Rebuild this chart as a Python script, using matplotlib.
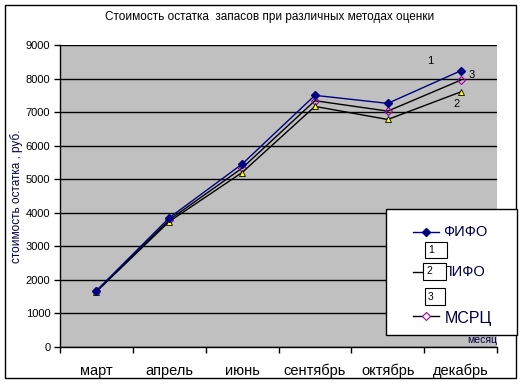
import matplotlib
matplotlib.use('Agg')
import matplotlib.pyplot as plt
from matplotlib.lines import Line2D
from matplotlib.patches import Rectangle

plt.rcParams['font.family'] = ['Liberation Sans', 'DejaVu Sans']

months = ['март', 'апрель', 'июнь', 'сентябрь', 'октябрь', 'декабрь']
fifo = [1680, 3850, 5450, 7500, 7260, 8230]
lifo = [1650, 3740, 5200, 7170, 6780, 7600]
mcrc = [1665, 3790, 5330, 7340, 7030, 7950]
yticks = list(range(0, 9001, 1000))

W, H = 523, 387
fig = plt.figure(figsize=(W / 100, H / 100), dpi=100)

def fx(px):
    return px / W

def fy(py):
    return 1 - py / H

# outer chart border
fig.add_artist(Rectangle((fx(5), fy(378)), fx(516) - fx(5), fy(5) - fy(378),
                         transform=fig.transFigure, fill=False, ec='black', lw=1))

ax = fig.add_axes([fx(60), fy(347), fx(497) - fx(60), fy(45) - fy(347)])
ax.set_facecolor('#c0c0c0')

x = list(range(len(months)))
ax.plot(x, fifo, color='#000080', lw=1, marker='D', ms=4, mfc='#000080', mec='#000080', zorder=4)
ax.plot(x, mcrc, color='black', lw=1, marker='D', ms=4, mfc='none', mec='#a000a0', mew=0.8, zorder=3)
ax.plot(x, lifo, color='black', lw=1, marker='^', ms=5, mfc='#ffff00', mec='black', mew=0.6, zorder=3)

ax.set_xlim(-0.5, len(months) - 0.5)
ax.set_ylim(0, 9000)
ax.set_yticks(yticks)
ax.set_yticklabels([str(v) for v in yticks], fontsize=8)
ax.yaxis.grid(True, color='black', lw=1)
ax.set_axisbelow(True)

ax.set_xticks(x)
ax.set_xticklabels(months, fontsize=10.5)
ax.set_xticks([i + 0.5 for i in x[:-1]] + [-0.5, len(months) - 0.5], minor=True)
ax.tick_params(axis='x', which='major', length=0, pad=12)
ax.tick_params(axis='x', which='minor', length=4, direction='out', width=1)
ax.tick_params(axis='y', length=4, direction='out', width=1, pad=3)

for s in ['top', 'right']:
    ax.spines[s].set_visible(False)
ax.spines['left'].set_linewidth(1)
ax.spines['bottom'].set_linewidth(1)

ax.set_ylabel('стоимость остатка , руб.', fontsize=8.5, color='#000040')
ax.yaxis.set_label_coords(-0.085, 0.5)
ax.text(1.0, 0.005, 'месяц', transform=ax.transAxes, ha='right', va='bottom',
        fontsize=7.5, color='#000040')

# point labels at last month
last = len(months) - 1
ax.annotate('1', (last, fifo[-1]), xytext=(-22, 7), textcoords='offset points',
            fontsize=8, ha='center', va='center')
ax.annotate('3', (last, mcrc[-1]), xytext=(8, 4), textcoords='offset points',
            fontsize=8, ha='center', va='center')
ax.annotate('2', (last, lifo[-1]), xytext=(-3, -9), textcoords='offset points',
            fontsize=8, ha='center', va='center')

fig.text(fx(270), fy(17), 'Стоимость остатка  запасов при различных методах оценки',
         ha='center', va='center', fontsize=8.5)

# legend box
fig.add_artist(Rectangle((fx(386), fy(335)), fx(517) - fx(386), fy(209) - fy(335),
                         transform=fig.transFigure, fc='white', ec='black', lw=1, zorder=5))
fig.add_artist(Line2D([fx(413), fx(439)], [fy(232), fy(232)], color='#000080', lw=1, zorder=6))
fig.add_artist(Line2D([fx(426)], [fy(232)], color='#000080', marker='D', ms=4,
                      ls='none', zorder=6))
fig.text(fx(443), fy(232), 'ФИФО', ha='left', va='center', fontsize=10.5, color='#000040', zorder=6)
fig.add_artist(Line2D([fx(413), fx(428)], [fy(272), fy(272)], color='black', lw=1, zorder=6))
fig.text(fx(443), fy(272), 'ЛИФО', ha='left', va='center', fontsize=10.5, color='#000040', zorder=6)
fig.add_artist(Line2D([fx(413), fx(439)], [fy(316), fy(316)], color='black', lw=1, zorder=6))
fig.add_artist(Line2D([fx(426)], [fy(316)], marker='D', ms=4, mfc='white', mec='#a000a0',
                      mew=0.8, ls='none', zorder=6))
fig.text(fx(445), fy(318), 'МСРЦ', ha='left', va='center', fontsize=11.5, color='#000040', zorder=6)

for lab, x0, y0, x1, y1 in [('1', 425, 242, 447, 258), ('2', 423, 263, 446, 280), ('3', 425, 288, 445, 305)]:
    fig.add_artist(Rectangle((fx(x0), fy(y1)), fx(x1) - fx(x0), fy(y0) - fy(y1),
                             transform=fig.transFigure, fc='white', ec='black', lw=0.8, zorder=7))
    fig.text(fx(x0 + 3), fy((y0 + y1) / 2), lab, ha='left', va='center', fontsize=7.5, zorder=8)

fig.savefig('out.png', dpi=100)
